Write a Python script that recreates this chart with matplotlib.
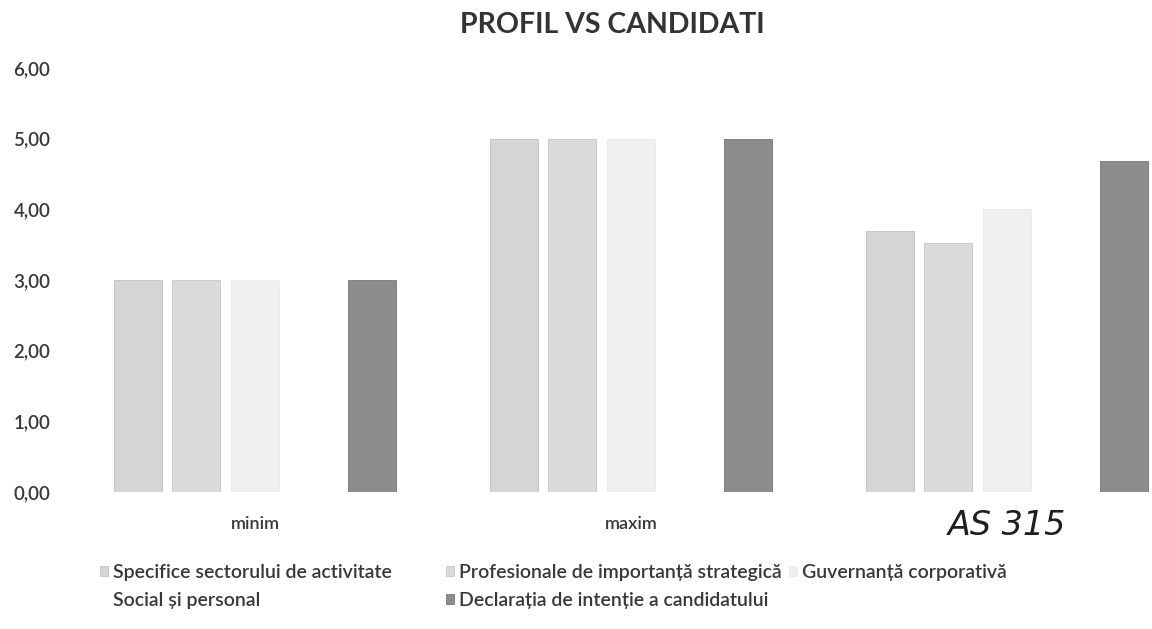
import matplotlib
matplotlib.use("Agg")
import matplotlib.pyplot as plt
import numpy as np
from matplotlib.patches import Patch

# ---- data ----
categories = ["minim", "maxim", ""]
series_names = [
    "Specifice sectorului de activitate",
    "Profesionale de importanță strategică",
    "Guvernanță corporativă",
    "Social și personal",
    "Declarația de intenție a candidatului",
]
values = {
    "Specifice sectorului de activitate": [3.00, 5.00, 3.70],
    "Profesionale de importanță strategică": [3.00, 5.00, 3.53],
    "Guvernanță corporativă": [3.00, 5.00, 4.00],
    "Social și personal": [3.00, 5.00, 4.00],
    "Declarația de intenție a candidatului": [3.00, 5.00, 4.68],
}
yticks = [0, 1, 2, 3, 4, 5, 6]
ytick_labels = ["0,00", "1,00", "2,00", "3,00", "4,00", "5,00", "6,00"]
title = "PROFIL VS CANDIDATI"
annotation = "AS 315"

# ---- style ----
colors = ["#d5d5d5", "#dadada", "#efefef", "#ffffff", "#8c8c8c"]
edges = ["#c2c2c2", "#c6c6c6", "#e8e8e8", "#ffffff", "#777777"]
FONT = "Lato"
TXT = "#383838"

W, H = 1152, 629
fig = plt.figure(figsize=(W / 100, H / 100), dpi=100)
fig.patch.set_facecolor("white")

left_px, bottom_px, top_px = 67, 492, 68
ax = fig.add_axes([left_px / W, (H - bottom_px) / H, (W - left_px) / W, (bottom_px - top_px) / H])
ax.set_facecolor("white")

x = np.arange(len(categories))
bw, step = 0.128, 0.156
for i, name in enumerate(series_names):
    ax.bar(x + (i - 2) * step, values[name], width=bw, color=colors[i],
           edgecolor=edges[i], linewidth=0.6, label=name, zorder=2)

ax.set_xlim(-0.5, -0.5 + (W - left_px) / 376)
ax.set_ylim(0, 6)
ax.set_yticks(yticks)
ax.set_yticklabels(ytick_labels, fontfamily=FONT, fontsize=13.5, color=TXT,
                   fontweight="semibold")
ax.set_xticks(x)
ax.set_xticklabels(categories, fontfamily=FONT, fontsize=13, color=TXT,
                   fontweight="semibold")
ax.tick_params(axis="y", length=0, pad=12)
ax.tick_params(axis="x", length=0, pad=17)
for s in ax.spines.values():
    s.set_visible(False)

fig.text(612 / W, 1 - 25 / H, title, ha="center", va="center",
         fontfamily=FONT, fontweight="bold", fontsize=20.5, color="#333333")

# handwritten annotation over the third category label
ax.text(2.0, -0.47, annotation, ha="center", va="center", fontsize=24,
        style="italic", color="#1e1e1e", fontfamily="DejaVu Sans", clip_on=False)

# ---- legend in three columns ----
handles = [Patch(facecolor=colors[i], edgecolor=edges[i], linewidth=0.6) for i in range(5)]
col_groups = [([0, 3], 100), ([1, 4], 446), ([2], 789)]
for idxs, xpx in col_groups:
    leg = fig.legend([handles[i] for i in idxs], [series_names[i] for i in idxs],
                     loc="upper left", bbox_to_anchor=(xpx / W, 1 - 564 / H),
                     frameon=False, handlelength=0.4, handleheight=0.4,
                     handletextpad=0.25, labelspacing=0.55, borderaxespad=0,
                     borderpad=0, prop={"family": FONT, "size": 14, "weight": "semibold"})
    for t in leg.get_texts():
        t.set_color(TXT)

fig.savefig("out.png", dpi=100, facecolor="white")
